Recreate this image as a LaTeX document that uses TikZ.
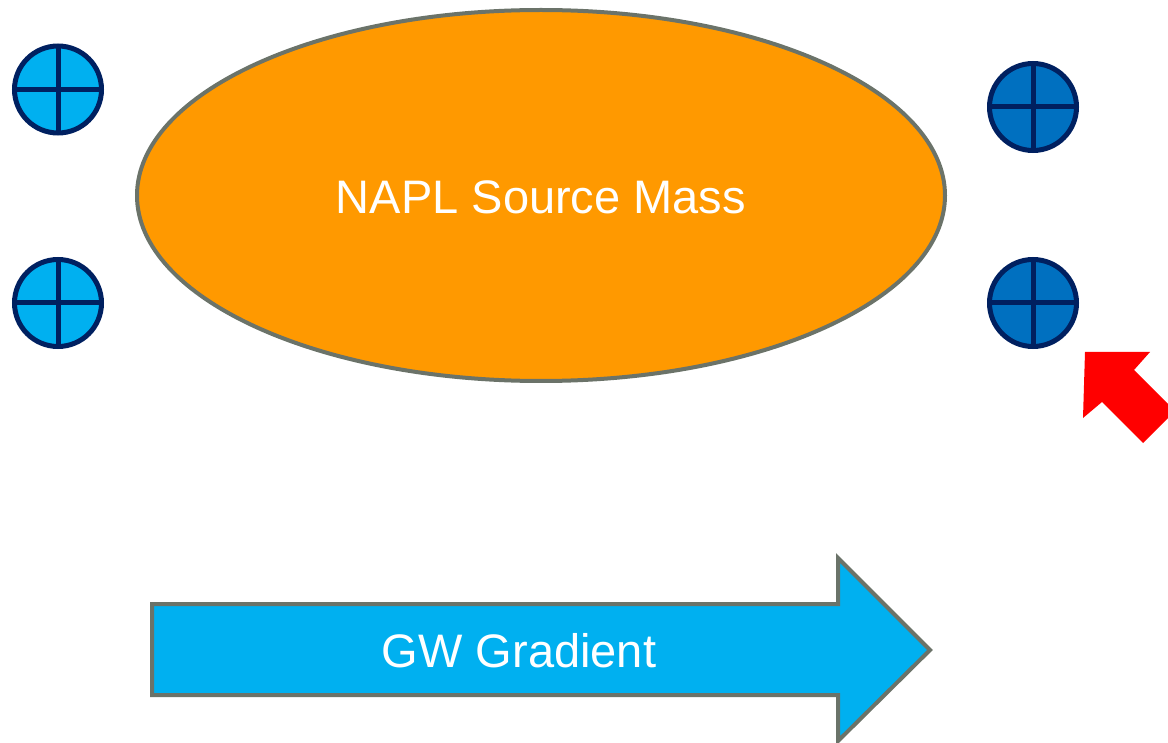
\documentclass[tikz,border=0pt]{standalone}
\usepackage{fontspec}
\setmainfont{Liberation Sans}
\usetikzlibrary{shapes.geometric}
\definecolor{napl}{HTML}{FF9900}
\definecolor{edgegray}{RGB}{107,115,105}
\definecolor{welllight}{HTML}{00B0F0}
\definecolor{welldark}{HTML}{0070C0}
\definecolor{wellline}{HTML}{002060}
\definecolor{gwblue}{HTML}{00B0F0}
\tikzset{
  well/.style={circle, draw=wellline, line width=5pt, minimum size=87pt, inner sep=0pt,
    path picture={\draw[wellline, line width=5pt]
      (path picture bounding box.north) -- (path picture bounding box.south)
      (path picture bounding box.west) -- (path picture bounding box.east);}},
  bigtext/.style={text=white, font=\fontsize{47}{50}\selectfont},
}
\begin{document}
\begin{tikzpicture}[x=1pt,y=-1pt]
\useasboundingbox (0,0) rectangle (1168,743);
\begin{scope}
\clip (0,0) rectangle (1168,743);
% source mass
\node[ellipse, draw=edgegray, line width=4pt, fill=napl, minimum width=808pt, minimum height=371pt, inner sep=0pt] (src) at (541,195.5) {};
\node[bigtext] (srclabel) at (541,197) {NAPL Source Mass};
% wells
\node[well, fill=welllight] (w1) at (58,89.5) {};
\node[well, fill=welllight] (w2) at (58,303) {};
\node[well, fill=welldark] (w3) at (1033,107) {};
\node[well, fill=welldark] (w4) at (1033,303) {};
% gradient arrow
\draw[draw=edgegray, line width=4pt, fill=gwblue, line join=miter]
  (152,604) -- (838,604) -- (838,558) -- (930,650) -- (838,741) -- (838,695) -- (152,695) -- cycle;
\node[bigtext] (gw) at (519,651) {GW Gradient};
% red arrow
\fill[red] (1085,352) -- (1150,352) -- (1134,370) -- (1175,411) -- (1143,443) -- (1102,402) -- (1083,418) -- cycle;
\end{scope}
\end{tikzpicture}
\end{document}
